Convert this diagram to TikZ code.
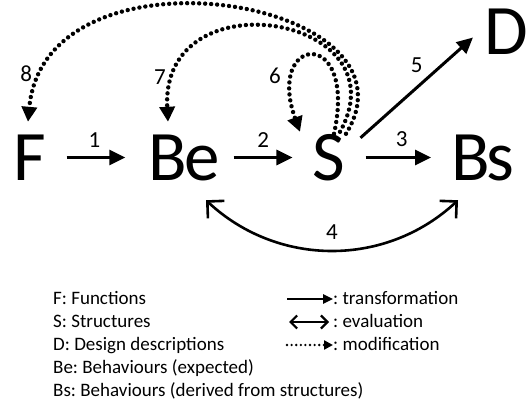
\documentclass[tikz,border=0pt]{standalone}
\usepackage{fontspec}
\setmainfont{Carlito}
\usetikzlibrary{arrows.meta, calc}

\begin{document}
\begin{tikzpicture}[
  x=1pt, y=1pt,
  letter/.style={font=\fontsize{71}{71}\selectfont, inner xsep=20pt, inner ysep=0pt, text height=45pt, text depth=0pt, anchor=base},
  num/.style={font=\fontsize{23}{23}\selectfont, inner sep=1pt},
  trans/.style={line width=3pt, -{Triangle[length=16pt,width=15pt]}},
  evalarr/.style={line width=2.6pt, {Straight Barb[length=12pt,width=24pt]}-{Straight Barb[length=12pt,width=24pt]}},
  modif/.style={line width=4.4pt, line cap=round, dash pattern=on 0pt off 6pt, -{Triangle[length=15pt,width=15pt]}},
  legend/.style={font=\fontsize{19}{19}\selectfont\frenchspacing, anchor=base west, inner sep=0pt},
]
  \useasboundingbox (0,0) rectangle (528,400);

  % FBS elements
  \node[letter] (F) at (30,220) {F};
  \node[letter] (Be) at (184,220) {B\kern-3pt e};
  \node[letter] (S) at (329,220) {S};
  \node[letter] (Bs) at (483,220) {B\kern-3pt s};
  \node[letter] (D) at (506,345) {D};

  % transformations
  \draw[trans, shorten >=3pt] (F) -- node[num, pos=0.45, above=8pt] {1} (Be);
  \draw[trans] ([xshift=-6pt]Be.east) -- node[num, above=8pt] {2} (S);
  \draw[trans] (S) -- node[num, pos=0.55, above=8pt] {3} (Bs);
  \draw[trans] ([shift={(-5,-3)}]S.north east) -- node[num, above=12pt] {5} ([shift={(9,-5)}]D.west);

  % evaluation
  \draw[evalarr] ([shift={(22,-20)}]Be.south) to[out=-43, in=-137] node[num, above=9pt] {4} ([shift={(-25,-20)}]Bs.south);

  % modifications
  \draw[modif] ([shift={(17,1)}]S.north) .. controls (430,402) and (45,464) .. node[num, pos=0.9, left=8pt] {8} ([shift={(-2,13)}]F.north);
  \draw[modif] ([shift={(11,3)}]S.north) .. controls (405,385) and (160,425) .. node[num, pos=0.88, left=6pt] {7} ([shift={(-16,13)}]Be.north);
  \draw[modif] ([shift={(5,1)}]S.north) .. controls (358,375) and (265,365) .. node[num, pos=0.75, left=10pt] {6} ([shift={(-29,3)}]S.north);

  % legend
  \foreach \t [count=\i] in {F: Functions, S: Structures, D: Design descriptions, Be: Behaviours (expected), Bs: Behaviours (derived from structures)}
    \node[legend] (l\i) at (53,{96-23*(\i-1)}) {\t};

  \node[legend] (tTrans) at (333,96) {: transformation};
  \node[legend] (tEval) at (333,73) {: evaluation};
  \node[legend] (tMod) at (333,50) {: modification};
  \coordinate (aTrans) at (287,101);
  \coordinate (aEval) at (289,78);
  \coordinate (aMod) at (287,55);
  \draw[line width=2.4pt, -{Triangle[length=10pt,width=9pt]}] (aTrans) -- (aTrans -| tTrans.west);
  \draw[line width=2.2pt, {Straight Barb[length=6.5pt,width=13pt]}-{Straight Barb[length=6.5pt,width=13pt]}] (aEval) -- ([xshift=-4pt]aEval -| tEval.west);
  \draw[line width=2.6pt, line cap=round, dash pattern=on 0pt off 4.6pt, -{Triangle[length=9pt,width=9pt]}] (aMod) -- (aMod -| tMod.west);
\end{tikzpicture}
\end{document}
